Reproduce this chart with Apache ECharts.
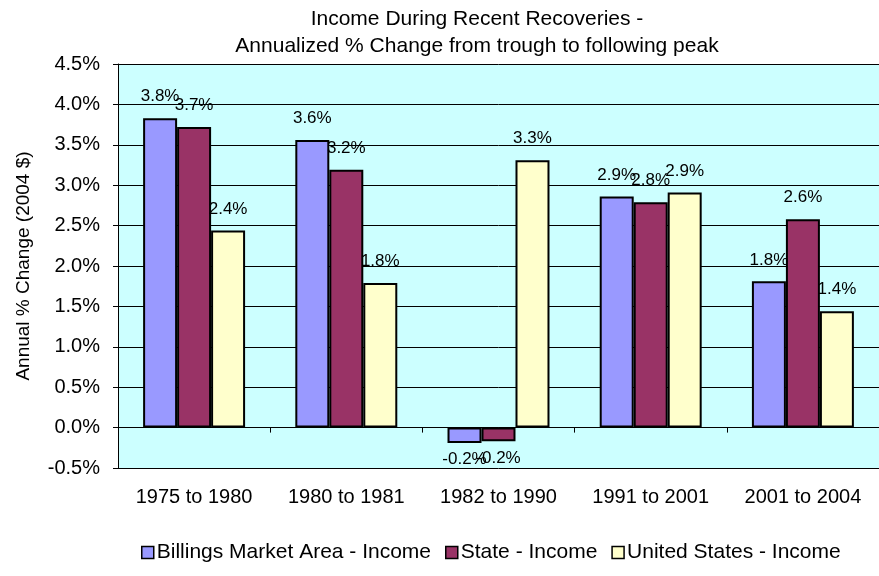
<!DOCTYPE html>
<html>
<head>
<meta charset="utf-8">
<script src="https://cdn.jsdelivr.net/npm/echarts@6/dist/echarts.min.js"></script>
<style>
  html, body { margin: 0; padding: 0; background: #fff; }
  #chart { width: 879px; height: 576px; }
</style>
</head>
<body>
<div id="chart"></div>
<script>
// periods (trough to peak)
const categories = ['1975 to 1980', '1980 to 1981', '1982 to 1990', '1991 to 2001', '2001 to 2004'];
const seriesNames = ['Billings Market Area - Income', 'State - Income', 'United States - Income'];

// annualized % change
const billingsValues = [3.83, 3.56, -0.19, 2.86, 1.81];
const stateValues = [3.72, 3.19, -0.17, 2.79, 2.58];
const usValues = [2.44, 1.79, 3.31, 2.91, 1.44];

const colors = ['#9999ff', '#993366', '#ffffcc'];
const FONT = 'Liberation Sans, Arial, sans-serif';

function toBarData(values) {
    // negative bars get their label under the bar, like Excel's "outside end"
    return values.map(v => ({
        value: v,
        label: v < 0 ? { position: 'bottom', distance: 8 } : {}
    }));
}

function makeSeries(name, values, color) {
    return {
        name: name,
        type: 'bar',
        xAxisIndex: 0,
        barGap: '0%',
        barCategoryGap: '33%',
        itemStyle: { color: color, borderColor: '#000', borderWidth: 2 },
        label: {
            show: true,
            position: 'top',
            distance: 13,
            color: '#000',
            fontFamily: FONT,
            fontSize: 17,
            formatter: p => p.value.toFixed(1) + '%'
        },
        data: toBarData(values)
    };
}

const chart = echarts.init(document.getElementById('chart'));

const option = {
    animation: false,
    backgroundColor: '#fff',
    title: {
        text: 'Income During Recent Recoveries -\nAnnualized % Change from trough to following peak',
        left: 472,
        top: 1,
        textAlign: 'center',
        textStyle: {
            fontFamily: FONT,
            fontSize: 21,
            fontWeight: 'normal',
            color: '#000',
            lineHeight: 27
        }
    },
    legend: {
        data: seriesNames,
        left: 136,
        top: 537,
        itemWidth: 12,
        itemHeight: 12,
        itemGap: 14,
        icon: 'rect',
        itemStyle: { borderColor: '#000', borderWidth: 1.5 },
        textStyle: { fontFamily: FONT, fontSize: 21, color: '#000', padding: [0, 0, 0, -2] }
    },
    grid: {
        left: 118,
        top: 64,
        width: 763,
        height: 404,
        show: true,
        backgroundColor: '#ccffff',
        borderWidth: 0
    },
    xAxis: [
        {
            // zero line with tick marks between the groups
            type: 'category',
            data: categories,
            position: 'bottom',
            axisLine: { show: true, onZero: true, lineStyle: { color: '#000', width: 1 } },
            axisTick: { show: true, length: 5, lineStyle: { color: '#000' } },
            axisLabel: { show: false }
        },
        {
            // category labels under the plot
            type: 'category',
            data: categories,
            position: 'bottom',
            axisLine: { show: false, onZero: false },
            axisTick: { show: false },
            axisLabel: {
                margin: 19,
                fontFamily: FONT,
                fontSize: 20,
                color: '#000'
            }
        }
    ],
    yAxis: {
        type: 'value',
        min: -0.5,
        max: 4.5,
        interval: 0.5,
        name: 'Annual % Change (2004 $)',
        nameLocation: 'middle',
        nameGap: 85,
        nameTextStyle: { fontFamily: FONT, fontSize: 19, color: '#000' },
        axisLine: { show: true, lineStyle: { color: '#000', width: 1 } },
        axisTick: { show: true, length: 5, lineStyle: { color: '#000' } },
        axisLabel: {
            margin: 18,
            fontFamily: FONT,
            fontSize: 20,
            color: '#000',
            formatter: v => v.toFixed(1) + '%'
        },
        splitLine: { show: true, lineStyle: { color: '#000', width: 1 } }
    },
    series: [
        makeSeries(seriesNames[0], billingsValues, colors[0]),
        makeSeries(seriesNames[1], stateValues, colors[1]),
        makeSeries(seriesNames[2], usValues, colors[2])
    ]
};

chart.setOption(option);
</script>
</body>
</html>
